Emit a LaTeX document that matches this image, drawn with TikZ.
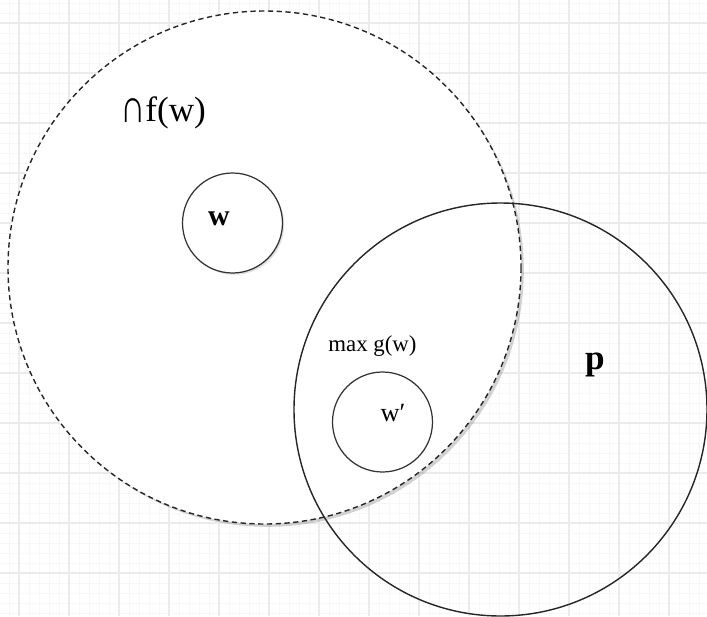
\documentclass[tikz,border=0pt]{standalone}
\usepackage{fontspec}
\setmainfont{Liberation Serif}
\usetikzlibrary{shadows}

\tikzset{
  minorline/.style={line width=0.5pt, black!3},
  majorline/.style={line width=0.7pt, black!8},
  setline/.style={line width=0.8pt, black!85},
  worldline/.style={line width=0.7pt, black!80},
}

\begin{document}
\begin{tikzpicture}[x=0.02cm, y=-0.02cm]
        \useasboundingbox (0, 0) rectangle (707, 616);
        \fill[white] (0, 0) rectangle (707, 616);

        % Light grid (graph paper background)
        \foreach \gx in {9, 19, ..., 699} \draw[minorline] (\gx, 0) -- (\gx, 616);
        \foreach \gy in {3, 13, ..., 613} \draw[minorline] (0, \gy) -- (707, \gy);
        \foreach \gx in {19, 69, ..., 669} \draw[majorline] (\gx, 0) -- (\gx, 616);
        \foreach \gy in {23, 73, ..., 573} \draw[majorline] (0, \gy) -- (707, \gy);

        % Intersection of f(w)
        \draw[setline, dash pattern=on 3pt off 2pt, fill=white,
              drop shadow={opacity=0.35, shadow xshift=1.6pt, shadow yshift=-1.6pt}]
              (264.5, 267.5) circle (256.5);
        \node[font=\fontsize{20}{24}\selectfont] (capf) at (163, 113)
              {\raisebox{-0.3pt}{\scalebox{1}[1.35]{∩}}f(w)};

        % Proposition p
        \draw[setline] (500.5, 409.5) circle (206.5);
        \node[font=\fontsize{20}{24}\selectfont\bfseries] (prop) at (595, 365) {p};

        % World w
        \draw[worldline, fill=white,
              drop shadow={opacity=0.25, shadow xshift=1pt, shadow yshift=-1pt}]
              (232.5, 223) circle (50);
        \node[font=\fontsize{17}{20}\selectfont\bfseries] (w) at (219, 219) {w};

        % Best worlds
        \node[font=\fontsize{13}{16}\selectfont] (maxg) at (372.5, 346) {max g(w)};
        \draw[worldline] (382.5, 422) circle (50);
        \node[font=\fontsize{15}{18}\selectfont] (wp) at (393, 413) {w′};
\end{tikzpicture}
\end{document}
